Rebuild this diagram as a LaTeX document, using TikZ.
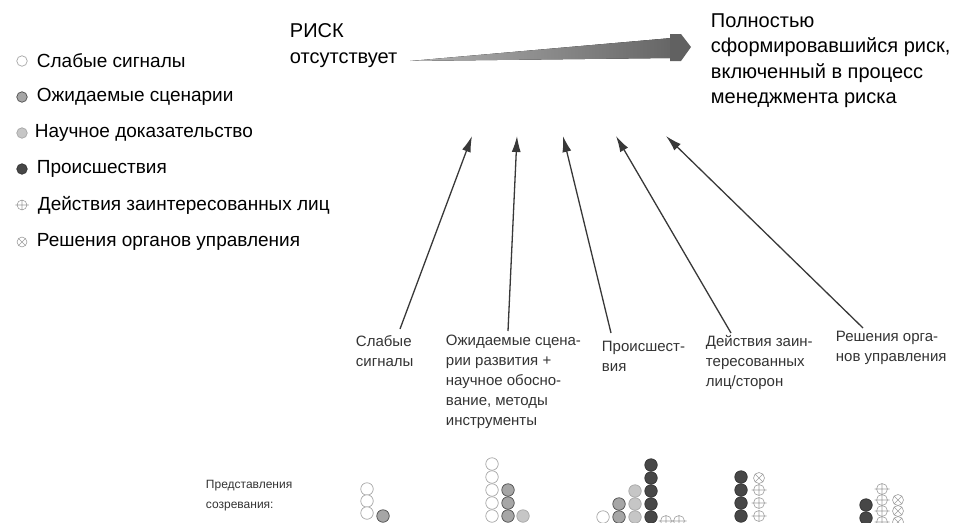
\documentclass[tikz,border=0pt]{standalone}
\usepackage{fontspec}
\setmainfont{Liberation Sans}
\usetikzlibrary{arrows.meta}

\tikzset{
  dot/.style={circle, inner sep=0pt, minimum size=12.5pt, line width=0.7pt},
  sig/.style={dot, draw=gray!70, fill=white},
  scen/.style={dot, draw=black!70, fill=gray!70},
  sci/.style={dot, draw=gray!70, fill=gray!45},
  inc/.style={dot, draw=black!80, fill=black!72},
  act/.pic={\draw[gray!75, line width=0.6pt] (0,0) circle (5.5) (0,-5.5) -- (0,5.5) (-7.5,0) -- (7.5,0);},
  dec/.pic={\draw[gray!75, line width=0.6pt] (0,0) circle (5.5) (-3.9,-3.9) -- (3.9,3.9) (-3.9,3.9) -- (3.9,-3.9);},
  legtext/.style={anchor=west, inner sep=0.75pt, font=\fontsize{19}{22}\selectfont},
  bigtext/.style={anchor=base west, inner sep=0.75pt, align=left, font=\fontsize{20}{25.5}\selectfont},
  lbltext/.style={anchor=base west, inner sep=0.75pt, align=left, text=black!80, font=\fontsize{15}{19.8}\selectfont},
  pointer/.style={line width=1.3pt, draw=black!78, -{Latex[length=16pt,width=9pt]}},
}

\begin{document}
\begin{tikzpicture}[x=1pt,y=1pt,yscale=-1,xscale=1]
	\useasboundingbox (0,0) rectangle (971,522);

	%Legend
	\node[sig, minimum size=10.5pt] (ksig) at (22,61) {};
	\node[scen, minimum size=10.5pt] (kscen) at (22,97) {};
	\node[sci, minimum size=10.5pt] (ksci) at (22,133) {};
	\node[inc, minimum size=10.5pt] (kinc) at (22,169) {};
	\pic[scale=0.9] at (22,205) {act};
	\pic[scale=0.9] at (22,242) {dec};
	% Text Node
	\node[legtext] (lsig) at (36,61) {Слабые сигналы};
	\node[legtext] (lscen) at (36,97) {Ожидаемые сценарии};
	\node[legtext] (lsci) at (34,133) {Научное доказательство};
	\node[legtext] (linc) at (36,169) {Происшествия};
	\node[legtext] (lact) at (37,205) {Действия заинтересованных лиц};
	\node[legtext] (ldec) at (36,242) {Решения органов управления};

	% Text Node (base = last line)
	\node[bigtext, font=\fontsize{20}{26}\selectfont] (risk0) at (289,63) {РИСК\\отсутствует};
	% Text Node
	\node[bigtext] (risk1) at (710,103.5) {Полностью\\сформировавшийся риск,\\включенный в процесс\\менеджмента риска};

	%Shape: Wedge
	\coordinate (wtip) at (410,61);
	\fill[left color=gray!60, right color=black!60] (wtip) -- (672,38) -- (672,58) -- cycle;
	\fill[black!62] (670,34) -- (681,34) -- (691,47) -- (681,61) -- (670,61) -- cycle;

	% Text Node
	\node[lbltext] (sl) at (355,366) {Слабые\\сигналы};
	\node[lbltext] (oz) at (445,425) {Ожидаемые сцена-\\рии развития +\\научное обосно-\\вание, методы\\инструменты};
	\node[lbltext] (pr) at (601,371) {Происшест-\\вия};
	\node[lbltext] (de) at (705,386) {Действия заин-\\тересованных\\лиц/сторон};
	\node[lbltext] (re) at (835,361) {Решения орга-\\нов управления};
	\node[anchor=base west, inner sep=0.75pt, align=left, text=black!80, font=\fontsize{12}{20}\selectfont] (pz) at (205,508) {Представления\\созревания:};

	%Straight Lines
	\coordinate (t1) at (400,329);  \coordinate (h1) at (472,136);
	\coordinate (t2) at (508,331);  \coordinate (h2) at (517,136);
	\coordinate (t3) at (611,333);  \coordinate (h3) at (563,136);
	\coordinate (t4) at (731,333);  \coordinate (h4) at (616,136);
	\coordinate (t5) at (863,328);  \coordinate (h5) at (666,136);
	\draw[pointer] (t1) -- (h1);
	\draw[pointer] (t2) -- (h2);
	\draw[pointer] (t3) -- (h3);
	\draw[pointer] (t4) -- (h4);
	\draw[pointer] (t5) -- (h5);

	%Stacks: weak signals
	\foreach \yy [count=\i] in {489,501,513} \node[sig] (aw\i) at (367,\yy) {};
	\node[scen] (as1) at (383,516) {};
	%Stacks: scenarios
	\foreach \yy [count=\i] in {464,477,490,503,516} \node[sig] (bw\i) at (492,\yy) {};
	\foreach \yy [count=\i] in {490,503,516} \node[scen] (bs\i) at (508,\yy) {};
	\node[sci] (bc1) at (523,516) {};
	%Stacks: incidents
	\node[sig] (cw1) at (603,517) {};
	\foreach \yy [count=\i] in {504,517} \node[scen] (cs\i) at (619,\yy) {};
	\foreach \yy [count=\i] in {491,504,517} \node[sci] (cc\i) at (635,\yy) {};
	\foreach \yy [count=\i] in {465,478,491,504,517} \node[inc] (ci\i) at (651,\yy) {};
	\pic at (666,521) {act};
	\pic at (679,521) {act};
	%Stacks: stakeholders
	\foreach \yy [count=\i] in {477,490,503,516} \node[inc] (di\i) at (741,\yy) {};
	\pic at (759,478) {dec};
	\foreach \yy in {490,503,516} \pic at (759,\yy) {act};
	%Stacks: authorities
	\foreach \yy [count=\i] in {505,518} \node[inc] (ei\i) at (866,\yy) {};
	\foreach \yy in {489,500,511,522} \pic at (882,\yy) {act};
	\foreach \yy in {500,511,522} \pic at (898,\yy) {dec};

\end{tikzpicture}
\end{document}
